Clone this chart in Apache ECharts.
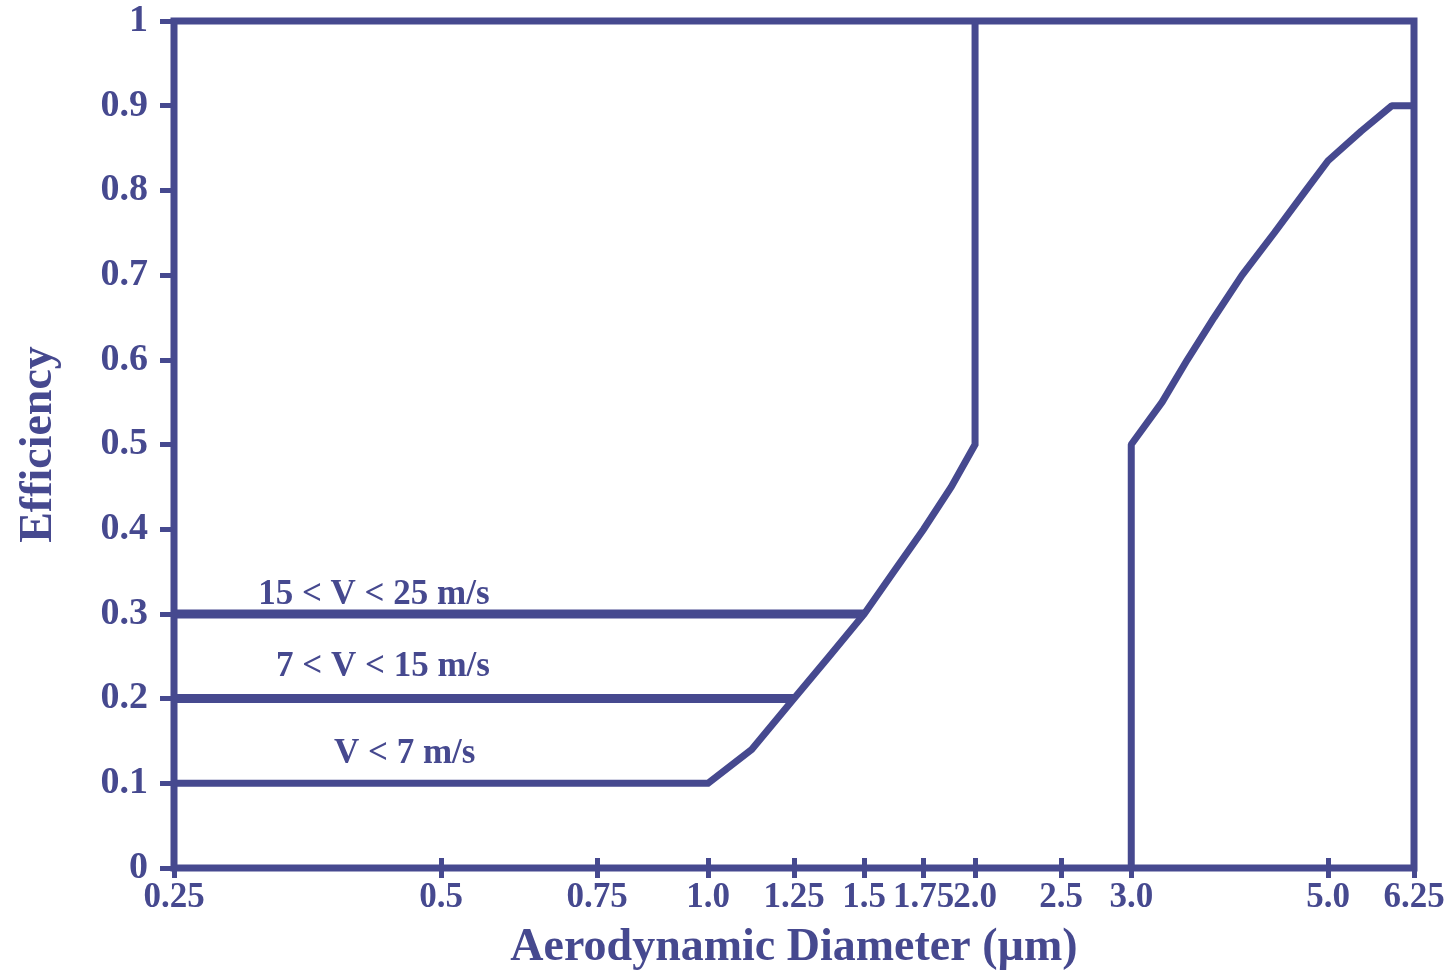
<!DOCTYPE html>
<html>
<head>
<meta charset="utf-8">
<script src="https://cdn.jsdelivr.net/npm/echarts@6/dist/echarts.min.js"></script>
<style>
  html, body { margin: 0; padding: 0; background: #fff; }
  #chart { width: 1446px; height: 973px; }
</style>
</head>
<body>
<div id="chart"></div>
<script>
// Tick positions and their printed labels on the diameter axis
const xTickValues = [0.25, 0.5, 0.75, 1.0, 1.25, 1.5, 1.75, 2.0, 2.5, 3.0, 5.0, 6.25];
const xTickLabels = ['0.25', '0.5', '0.75', '1.0', '1.25', '1.5', '1.75', '2.0', '2.5', '3.0', '5.0', '6.25'];

// Efficiency curve for the lowest wind speed, then its cut-off at 2.0 µm
const lowSpeedCurve = [
  [0.25, 0.1], [1.0, 0.1], [1.12, 0.14], [1.25, 0.2], [1.37, 0.25],
  [1.5, 0.3], [1.62, 0.35], [1.75, 0.4], [1.88, 0.45], [2.0, 0.5], [2.0, 1.0]
];
// Plateaus for the higher wind-speed bands
const midSpeedLine = [[0.25, 0.2], [1.25, 0.2]];
const highSpeedLine = [[0.25, 0.3], [1.5, 0.3]];
// Second stage curve, starting at 3.0 µm
const coarseCurve = [
  [3.0, 0.0], [3.0, 0.5], [3.25, 0.55], [3.47, 0.6], [3.72, 0.65], [4.0, 0.7],
  [4.35, 0.75], [4.72, 0.8], [5.0, 0.835], [5.45, 0.87], [5.9, 0.9], [6.25, 0.9]
];

// Band captions and where they sit (diameter, efficiency)
const bandNames = ['15 < V < 25 m/s', '7 < V < 15 m/s', 'V < 7 m/s'];
const bandNamePos = [[0.42, 0.322], [0.43, 0.237], [0.455, 0.135]];

const INK = '#46498f';
const FONT = '"Liberation Serif", "Times New Roman", serif';

function tickText(v) {
  let best = 0, bestD = Infinity;
  xTickValues.forEach((t, i) => {
    const d = Math.abs(Math.log(t) - Math.log(v));
    if (d < bestD) { bestD = d; best = i; }
  });
  return xTickLabels[best];
}

function caption(i) {
  return {
    symbol: 'circle',
    symbolSize: 0,
    silent: true,
    data: [{
      coord: bandNamePos[i],
      label: {
        show: true,
        position: 'inside',
        formatter: bandNames[i],
        color: INK,
        fontFamily: FONT,
        fontWeight: 'bold',
        fontSize: 35
      }
    }]
  };
}

const chart = echarts.init(document.getElementById('chart'));

const baseX = {
  type: 'log',
  logBase: 2,
  min: 0.25,
  max: 6.25,
  gridIndex: 0,
  position: 'bottom',
  splitLine: { show: false },
  axisLine: { show: false }
};

chart.setOption({
  animation: false,
  backgroundColor: '#fff',
  grid: {
    left: 174, right: 32, top: 21, bottom: 105,
    outerBoundsMode: 'none',
    containLabel: false,
    show: true,
    borderColor: INK,
    borderWidth: 7,
    backgroundColor: 'transparent'
  },
  xAxis: [
    Object.assign({}, baseX, {
      name: 'Aerodynamic Diameter (µm)',
      nameLocation: 'middle',
      nameGap: 57,
      nameTextStyle: { color: INK, fontFamily: FONT, fontWeight: 'bold', fontSize: 46 },
      axisTick: {
        show: true, inside: false, length: 10, customValues: xTickValues,
        lineStyle: { color: INK, width: 5 }
      },
      axisLabel: {
        show: true, margin: 12, customValues: xTickValues,
        formatter: tickText,
        color: INK, fontFamily: FONT, fontWeight: 'bold', fontSize: 35
      }
    }),
    Object.assign({}, baseX, {
      axisTick: {
        show: true, inside: true, length: 10, customValues: xTickValues,
        lineStyle: { color: INK, width: 5 }
      },
      axisLabel: { show: false }
    })
  ],
  yAxis: {
    type: 'value',
    min: 0,
    max: 1,
    interval: 0.1,
    name: 'Efficiency',
    nameLocation: 'middle',
    nameGap: 112,
    nameTextStyle: { color: INK, fontFamily: FONT, fontWeight: 'bold', fontSize: 46 },
    splitLine: { show: false },
    axisLine: { show: false },
    axisTick: { show: true, length: 14, lineStyle: { color: INK, width: 5 } },
    axisLabel: {
      margin: 26,
      color: INK, fontFamily: FONT, fontWeight: 'bold', fontSize: 38
    }
  },
  series: [
    {
      type: 'line', data: lowSpeedCurve, symbol: 'none', clip: false,
      lineStyle: { color: INK, width: 7, join: 'miter' },
      markPoint: caption(2)
    },
    {
      type: 'line', data: midSpeedLine, symbol: 'none', clip: false,
      lineStyle: { color: INK, width: 9 },
      markPoint: caption(1)
    },
    {
      type: 'line', data: highSpeedLine, symbol: 'none', clip: false,
      lineStyle: { color: INK, width: 9 },
      markPoint: caption(0)
    },
    {
      type: 'line', data: coarseCurve, symbol: 'none', clip: false,
      lineStyle: { color: INK, width: 7 }
    }
  ]
});
</script>
</body>
</html>
